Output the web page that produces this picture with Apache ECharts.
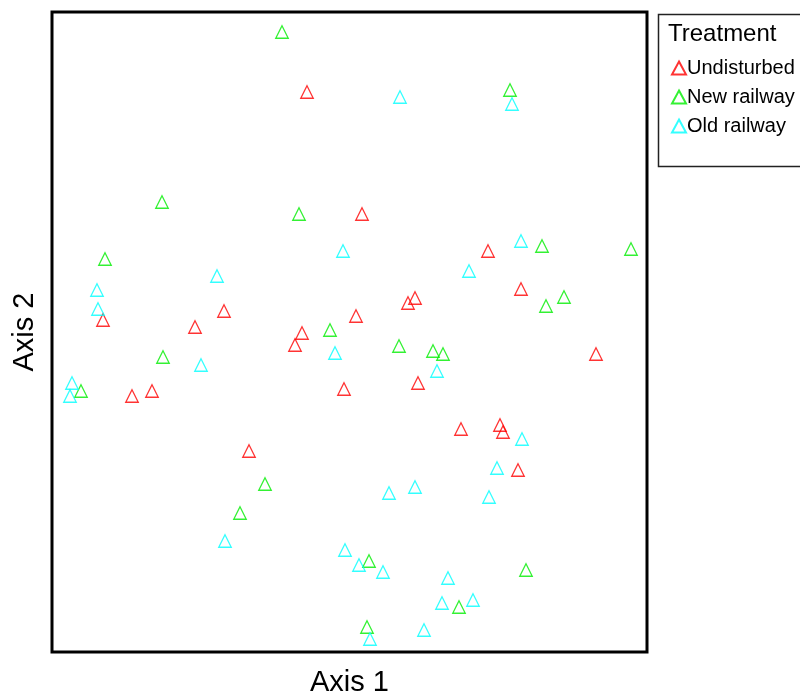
<!DOCTYPE html>
<html>
<head>
<meta charset="utf-8">
<script src="https://cdn.jsdelivr.net/npm/echarts@6/dist/echarts.min.js"></script>
<style>html,body{margin:0;padding:0;background:#fff;}#c{width:800px;height:698px;}</style>
</head>
<body>
<div id="c"></div>
<script>
// Ordination scores (Axis 1, Axis 2)
const undisturbed = [
  [-0.43, 2.40], [0.12, 1.18], [1.38, 0.81], [1.71, 0.43], [0.65, 0.34], [0.58, 0.29],
  [0.06, 0.16], [-0.48, -0.01], [-0.55, -0.13], [-1.26, 0.21], [-1.55, 0.05], [-2.47, 0.12],
  [-1.98, -0.59], [-2.18, -0.64], [-0.06, -0.57], [0.68, -0.51], [2.46, -0.22], [1.11, -0.97],
  [1.50, -0.93], [1.53, -1.00], [1.68, -1.38], [-1.01, -1.19]
];
const newRailway = [
  [-0.68, 3.00], [1.60, 2.42], [-1.88, 1.30], [-0.51, 1.18], [-2.45, 0.73], [1.92, 0.86],
  [2.81, 0.83], [2.14, 0.35], [1.96, 0.26], [-0.20, 0.02], [0.49, -0.14], [0.83, -0.19],
  [0.93, -0.22], [-1.87, -0.25], [-2.69, -0.59], [-0.85, -1.52], [-1.10, -1.81], [0.19, -2.29],
  [1.76, -2.38], [1.09, -2.75], [0.17, -2.95]
];
const oldRailway = [
  [0.50, 2.35], [1.62, 2.28], [1.71, 0.91], [-0.07, 0.81], [1.19, 0.61], [-1.33, 0.56],
  [-2.53, 0.42], [-2.52, 0.23], [-0.15, -0.21], [0.87, -0.39], [-1.49, -0.33], [-2.78, -0.51],
  [-2.80, -0.64], [1.72, -1.07], [1.47, -1.36], [0.39, -1.61], [0.65, -1.55], [1.39, -1.65],
  [-1.25, -2.09], [-0.05, -2.18], [0.09, -2.33], [0.33, -2.40], [0.98, -2.46], [0.92, -2.71],
  [1.23, -2.68], [0.74, -2.98], [0.20, -3.07]
];
const seriesNames = ['Undisturbed', 'New railway', 'Old railway'];
const seriesColors = ['#FF0000', '#00EE00', '#00FFFF'];
const seriesData = [undisturbed, newRailway, oldRailway];

const chart = echarts.init(document.getElementById('c'), null, {renderer: 'canvas'});
const font = '"Liberation Sans", Arial, sans-serif';

chart.setOption({
  animation: false,
  backgroundColor: '#fff',
  grid: {left: 52, right: 153, top: 12, bottom: 46, show: true, borderColor: '#000', borderWidth: 3, backgroundColor: 'transparent', containLabel: false, outerBoundsMode: 'none'},
  xAxis: {
    type: 'value', min: -2.98, max: 2.97,
    name: 'Axis 1', nameLocation: 'middle', nameGap: 31,
    nameTextStyle: {fontFamily: font, fontSize: 29, color: '#000', verticalAlign: 'middle'},
    axisLine: {show: false}, axisTick: {show: false}, axisLabel: {show: false}, splitLine: {show: false}
  },
  yAxis: {
    type: 'value', min: -3.20, max: 3.20,
    name: 'Axis 2', nameLocation: 'middle', nameGap: 27,
    nameTextStyle: {fontFamily: font, fontSize: 29, color: '#000', verticalAlign: 'middle'},
    axisLine: {show: false}, axisTick: {show: false}, axisLabel: {show: false}, splitLine: {show: false}
  },
  legend: {
    orient: 'vertical', left: 666, top: 53, itemWidth: 14, itemHeight: 13, itemGap: 9,
    icon: 'triangle',
    textStyle: {fontFamily: font, fontSize: 20, color: '#000', lineHeight: 20, padding: [0, 0, 0, -4]},
    data: seriesNames
  },
  graphic: [
    {type: 'rect', left: 656, top: 12, shape: {width: 160, height: 152}, style: {fill: 'none', stroke: '#222', lineWidth: 1.5}},
    {type: 'text', left: 668, top: 22, style: {text: 'Treatment', font: '24px "Liberation Sans", Arial, sans-serif', fill: '#000'}}
  ],
  series: seriesData.map((d, i) => ({
    name: seriesNames[i],
    type: 'scatter',
    symbol: 'triangle',
    symbolSize: 12.5,
    data: d,
    itemStyle: {color: 'rgba(255,255,255,0)', borderColor: seriesColors[i], borderWidth: 1.3}
  }))
});
</script>
</body>
</html>
